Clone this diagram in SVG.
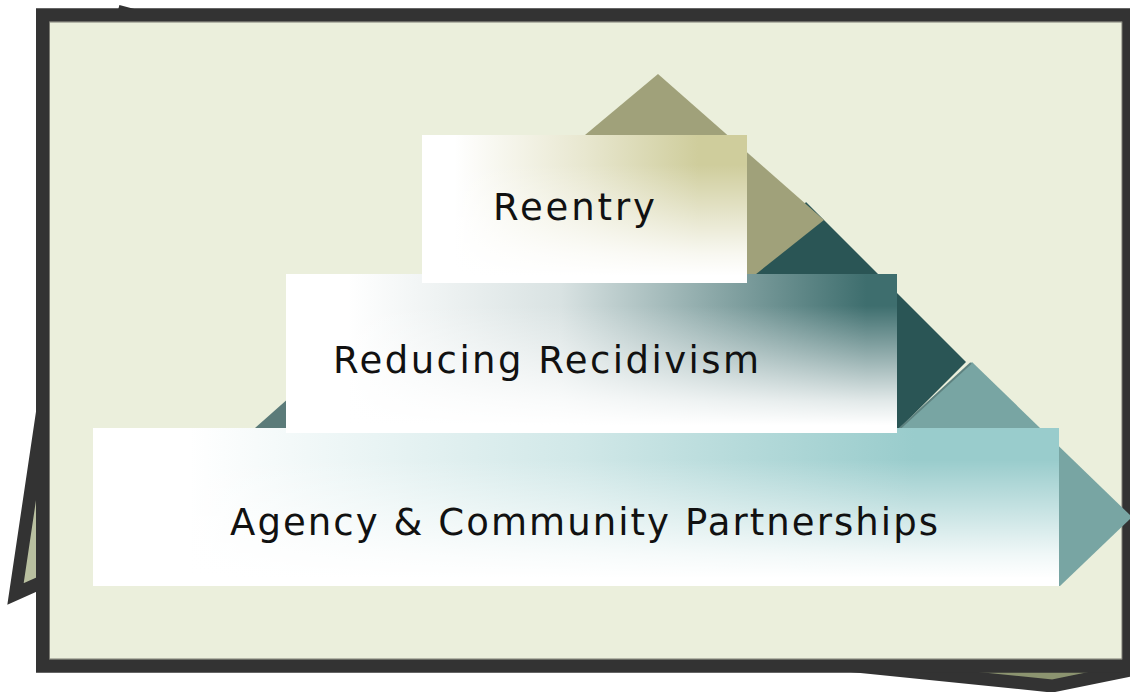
<svg xmlns="http://www.w3.org/2000/svg" width="1130" height="692" viewBox="0 0 1130 692">
  <defs>
    <style>
      .sheet { stroke: #333333; stroke-width: 13; stroke-linejoin: miter; stroke-miterlimit: 10; }
      .frame { fill: #EBEFDC; stroke: #333333; stroke-width: 13.5; }
      .frame-edge { fill: none; stroke: #7A7A72; stroke-width: 1; }
      .base { fill: #FFFFFF; }
      .fade { fill: url(#fadeV); }
      .label { font-family: "DejaVu Sans", "Liberation Sans", sans-serif; font-size: 37px; fill: #111111; }
    </style>
    <!-- horizontal tints: white on the left, full colour toward the right -->
    <linearGradient id="tintKhaki" x1="0" y1="0" x2="1" y2="0">
      <stop offset="0.1" stop-color="#CFCD9C" stop-opacity="0"/>
      <stop offset="0.5" stop-color="#CFCD9C" stop-opacity="0.48"/>
      <stop offset="0.85" stop-color="#CFCD9C" stop-opacity="1"/>
    </linearGradient>
    <linearGradient id="tintTeal" x1="0" y1="0" x2="1" y2="0">
      <stop offset="0.1" stop-color="#3E6E6E" stop-opacity="0"/>
      <stop offset="0.45" stop-color="#3E6E6E" stop-opacity="0.2"/>
      <stop offset="0.7" stop-color="#3E6E6E" stop-opacity="0.6"/>
      <stop offset="0.95" stop-color="#3E6E6E" stop-opacity="1"/>
    </linearGradient>
    <linearGradient id="tintAqua" x1="0" y1="0" x2="1" y2="0">
      <stop offset="0.1" stop-color="#99CCCC" stop-opacity="0"/>
      <stop offset="0.5" stop-color="#99CCCC" stop-opacity="0.45"/>
      <stop offset="0.85" stop-color="#99CCCC" stop-opacity="1"/>
    </linearGradient>
    <!-- vertical wash to white toward the bottom of each block -->
    <linearGradient id="fadeV" x1="0" y1="0" x2="0" y2="1">
      <stop offset="0.2" stop-color="#FFFFFF" stop-opacity="0"/>
      <stop offset="0.5" stop-color="#FFFFFF" stop-opacity="0.42"/>
      <stop offset="0.8" stop-color="#FFFFFF" stop-opacity="0.85"/>
      <stop offset="0.95" stop-color="#FFFFFF" stop-opacity="1"/>
    </linearGradient>
  </defs>

  <!-- sheets stacked behind the board -->
  <g id="back-sheets">
    <path class="sheet" fill="#8C9470" d="M600,200 L600,640 L1052,686 L1145,667 L1145,200 Z"/>
    <path class="sheet" fill="#B9C0A0" d="M124,13 L74,200 L15.5,594 L60,574 L300,500 L300,60 Z"/>
  </g>

  <!-- board -->
  <g id="board">
    <rect class="frame" x="42.75" y="15" width="1086" height="651"/>
    <rect class="frame-edge" x="49.5" y="22" width="1072.5" height="637"/>
  </g>

  <!-- pyramid faces behind the tiers -->
  <g id="pyramid">
    <polygon fill="#2A5555" points="806,202 966,362 898,430 730,430 730,300"/>
    <polygon fill="#5B7B79" points="255,428 290,397 290,428"/>
    <polygon fill="#A0A17A" points="658,74 824,220 731,294 540,294 585,135"/>
    <polygon fill="#78A5A3" points="972,362 1132,517 1060,586 980,586 898,430"/>
    <line x1="898" y1="430" x2="971" y2="363" stroke="#5E8280" stroke-width="2"/>
  </g>

  <!-- tier: base -->
  <g id="node-agency">
    <rect class="base" x="93" y="428" width="966" height="158"/>
    <rect fill="url(#tintAqua)" x="93" y="428" width="966" height="158"/>
    <rect class="fade" x="93" y="428" width="966" height="158"/>
    <text class="label" x="230" y="535" textLength="708" lengthAdjust="spacing">Agency &amp; Community Partnerships</text>
  </g>

  <!-- tier: middle -->
  <g id="node-reducing">
    <rect class="base" x="286" y="274" width="611" height="159"/>
    <rect fill="url(#tintTeal)" x="286" y="274" width="611" height="159"/>
    <rect class="fade" x="286" y="274" width="611" height="159"/>
    <text class="label" x="333" y="373" textLength="426" lengthAdjust="spacing">Reducing Recidivism</text>
  </g>

  <!-- tier: top -->
  <g id="node-reentry">
    <rect class="base" x="422" y="135" width="325" height="148"/>
    <rect fill="url(#tintKhaki)" x="422" y="135" width="325" height="148"/>
    <rect class="fade" x="422" y="135" width="325" height="148"/>
    <text class="label" x="493" y="220" textLength="162" lengthAdjust="spacing">Reentry</text>
  </g>

  <!-- no connectors in this figure -->
  <g id="connectors"/>
</svg>
